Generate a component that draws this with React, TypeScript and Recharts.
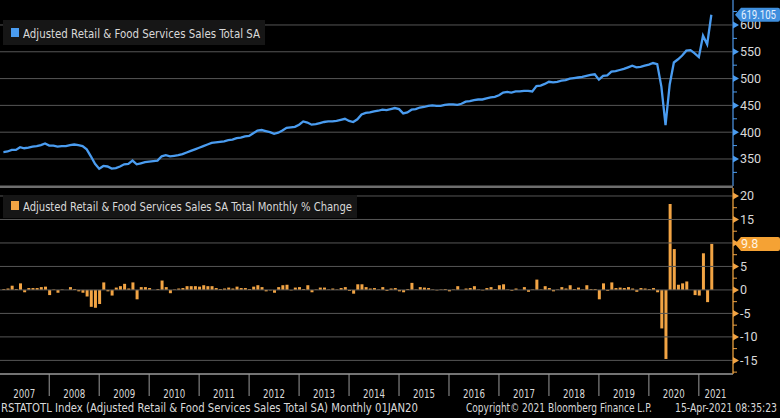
import React from "react";
import { Bar, BarChart, Line, LineChart, ReferenceLine, XAxis, YAxis } from "recharts";

// Adjusted Retail & Food Services Sales Total SA, monthly Jan 2007 - Mar 2021
const salesTotal = [
  363, 364, 367, 367, 372, 370, 371, 373, 374, 376, 379, 375, // 2007
  375, 373, 374, 374, 376, 377, 376, 374, 368, 355, 341, 332, // 2008
  337, 336, 332, 333, 336, 340, 341, 347, 340, 342, 344, 345, // 2009
  346, 347, 355, 357, 355, 356, 357, 359, 362, 365, 368, 371, // 2010
  374, 377, 380, 381, 382, 383, 385, 386, 389, 390, 392, 393, // 2011
  398, 403, 404, 402, 400, 397, 399, 403, 408, 409, 410, 414, // 2012
  420, 418, 414, 415, 417, 419, 420, 420, 421, 423, 425, 421, // 2013
  419, 424, 433, 436, 437, 439, 440, 442, 441, 443, 445, 443, // 2014
  435, 437, 442, 443, 446, 447, 449, 450, 449, 449, 451, 452, // 2015
  452, 451, 453, 457, 458, 460, 461, 461, 463, 465, 466, 469, // 2016
  474, 475, 474, 476, 476, 477, 477, 476, 486, 487, 490, 494, // 2017
  493, 494, 496, 497, 500, 501, 502, 503, 505, 507, 508, 498, // 2018
  505, 506, 513, 514, 516, 518, 521, 524, 521, 522, 524, 526, // 2019
  529, 527, 485, 413, 489, 530, 536, 543, 552, 553, 547, 540, // 2020
  580, 564, 619.105, // 2021
];

// Monthly % change
const monthlyChange = [
  0.2, 0.3, 0.9, 0.2, 1.4, -0.5, 0.4, 0.4, 0.4, 0.6, 0.7, -1.1,
  0.1, -0.6, 0.1, 0.0, 0.6, 0.2, -0.3, -0.6, -1.4, -3.6, -3.8, -3.0,
  1.6, -0.3, -1.2, 0.5, 0.8, 1.3, 0.3, 1.6, -2.0, 0.6, 0.6, 0.4,
  0.0, 0.2, 2.0, 0.6, -0.7, 0.1, 0.3, 0.4, 0.8, 0.8, 0.8, 0.7,
  1.0, 0.8, 0.8, 0.4, 0.2, 0.3, 0.5, 0.3, 0.7, 0.4, 0.4, 0.2,
  0.7, 1.0, 0.6, -0.3, -0.1, -0.6, 0.6, 1.0, 1.1, -0.1, 0.5, 0.6,
  0.2, 1.0, -0.5, 0.1, 0.5, 0.5, 0.1, 0.3, 0.1, 0.4, 0.6, -0.2,
  -0.8, 1.2, 1.2, 0.6, 0.3, 0.4, 0.1, 0.6, -0.2, 0.3, 0.4, -0.3,
  -0.5, 0.2, 1.5, 0.1, 0.6, 0.5, 0.4, 0.1, -0.1, 0.1, 0.2, -0.3,
  0.1, 0.8, 0.0, 0.3, 0.4, 0.8, 0.1, -0.1, 0.4, 0.6, 0.2, 1.0,
  1.2, 0.1, -0.2, 0.3, 0.0, 0.6, -0.4, 0.1, 2.2, 0.1, 0.8, 0.4,
  -0.3, 0.1, 0.6, 0.3, 1.0, 0.2, 0.5, 0.1, 1.0, 0.2, 0.2, -2.0,
  1.4, -0.2, 1.6, 0.4, 0.5, 0.4, 0.6, 0.3, -0.4, 0.4, 0.3, 0.2,
  0.4, -0.5, -8.2, -14.7, 18.3, 8.7, 1.1, 1.4, 1.8, 0.0, -1.1, -1.2,
  7.8, -2.6, 9.8,
];

const yearLabels = [2007, 2008, 2009, 2010, 2011, 2012, 2013, 2014, 2015, 2016, 2017, 2018, 2019, 2020, 2021];
const salesTicks = [325, 350, 375, 400, 425, 450, 475, 500, 525, 550, 575, 600, 625];
const salesGrid = [350, 400, 450, 500, 550, 600];
const changeTicks = [-17.5, -15, -12.5, -10, -7.5, -5, -2.5, 0, 2.5, 5, 7.5, 10, 12.5, 15, 17.5, 20];
const changeGrid = [-15, -10, -5, 0, 5, 10, 15, 20];

const rows = salesTotal.map((v, i) => ({ idx: i, sales: v, change: monthlyChange[i] }));
const lastSales = salesTotal[salesTotal.length - 1];
const lastChange = monthlyChange[monthlyChange.length - 1];

// x ticks: year boundaries (Dec of previous year) and label centres
const xTicks: number[] = [];
yearLabels.forEach((y, k) => {
  if (k > 0) xTicks.push(12 * k - 1);
  xTicks.push(y === 2021 ? 12 * k + 3 : 12 * k + 5);
});

const W = 780;
const AXIS_W = 47;
const X_DOMAIN: [number, number] = [-0.82, 175.2];
const BLUE = "#4a9cf0";
const ORANGE = "#f2a444";
const GRID = "#565656";
const TXT = "#d9d9d9";
const NARROW = "'Liberation Sans Narrow','DejaVu Sans Condensed',Roboto,sans-serif";

// right axis tick: minor dash, major triangle + label, or the last-value tag (drawn last, on top)
function RightTick(props: any) {
  const { x, y, payload, color, step, tagValue, tagBg, tagFg } = props;
  const v = payload.value;
  if (v === tagValue) {
    const ax = x + 2;
    const label = String(v);
    const fit = label.length > 4 ? { textLength: W - ax - 10, lengthAdjust: "spacingAndGlyphs" } : {};
    return (
      <g>
        <path
          d={`M${ax},${y}L${ax + 6},${y - 7}L${W - 2},${y - 7}Q${W},${y - 7} ${W},${y - 5}L${W},${y + 5}Q${W},${y + 7} ${W - 2},${y + 7}L${ax + 6},${y + 7}Z`}
          fill={tagBg}
        />
        <text x={ax + 6} y={y + 4.5} fill={tagFg} fontSize={12.5} fontFamily="Roboto, sans-serif" {...fit}>
          {label}
        </text>
      </g>
    );
  }
  if (v % step !== 0) {
    return <line x1={x} x2={x + 4} y1={y} y2={y} stroke={color} strokeWidth={1} />;
  }
  return (
    <g>
      <path d={`M${x},${y - 3.5}L${x + 6},${y}L${x},${y + 3.5}Z`} fill={color} />
      <text x={x + 7} y={y + 4.5} fill={TXT} fontSize={12.5} fontFamily="Roboto, sans-serif">
        {v}
      </text>
    </g>
  );
}

function YearTick(props: any) {
  const { x, y, payload } = props;
  const v = payload.value;
  if ((v + 1) % 12 === 0) {
    return <line x1={x} x2={x} y1={y} y2={y + 22} stroke="#9a9a9a" strokeWidth={1} />;
  }
  const year = yearLabels[Math.floor(v / 12)];
  return (
    <text x={x} y={y + 24} textAnchor="middle" fill={TXT} fontSize={11.5} fontFamily={NARROW} textLength={22} lengthAdjust="spacingAndGlyphs">
      {year}
    </text>
  );
}

export default function App() {
  return (
    <div style={{ position: "absolute", left: 0, top: 0, width: W, height: 418, background: "#000", overflow: "hidden" }}>
      <div style={{ position: "absolute", left: 0, top: 0 }}>
        <LineChart width={W} height={186} data={rows} margin={{ top: 0, right: 0, bottom: 0, left: 0 }}>
          <XAxis dataKey="idx" type="number" domain={X_DOMAIN} allowDataOverflow hide />
          <YAxis
            orientation="right"
            width={AXIS_W}
            domain={[299.6, 646.6]}
            allowDataOverflow
            ticks={[...salesTicks, lastSales]}
            interval={0}
            tickLine={false}
            tickSize={0}
            tickMargin={0}
            axisLine={{ stroke: "#3f78b8", strokeWidth: 1.5 }}
            tick={<RightTick color={BLUE} step={50} tagValue={lastSales} tagBg="#3f8fde" tagFg="#e6f1ff" />}
          />
          {salesGrid.map((g) => (
            <ReferenceLine key={g} y={g} stroke={GRID} strokeWidth={1} />
          ))}
          <Line
            type="linear"
            dataKey="sales"
            stroke={BLUE}
            strokeWidth={2.3}
            dot={false}
            activeDot={false}
            isAnimationActive={false}
          />
        </LineChart>
      </div>

      <div style={{ position: "absolute", left: 0, top: 188 }}>
        <BarChart width={W} height={230} data={rows} margin={{ top: 0, right: 0, bottom: 0, left: 0 }}>
          <XAxis
            dataKey="idx"
            type="number"
            domain={X_DOMAIN}
            allowDataOverflow
            ticks={xTicks}
            interval={0}
            height={44}
            tickLine={false}
            tickSize={0}
            tickMargin={0}
            axisLine={{ stroke: "#9a9a9a", strokeWidth: 1.5 }}
            tick={<YearTick />}
          />
          <YAxis
            orientation="right"
            width={AXIS_W}
            domain={[-17.9, 21.7]}
            allowDataOverflow
            ticks={[...changeTicks, lastChange]}
            interval={0}
            tickLine={false}
            tickSize={0}
            tickMargin={0}
            axisLine={{ stroke: "#c88a34", strokeWidth: 1.5 }}
            tick={<RightTick color={ORANGE} step={5} tagValue={lastChange} tagBg="#f5a234" tagFg="#fff4e2" />}
          />
          {changeGrid.map((g) => (
            <ReferenceLine key={g} y={g} stroke={GRID} strokeWidth={1} />
          ))}
          <Bar dataKey="change" fill={ORANGE} barSize={3} isAnimationActive={false} />
        </BarChart>
      </div>

      <svg width={W} height={418} style={{ position: "absolute", left: 0, top: 0, pointerEvents: "none" }}>
        {/* panel separator */}
        <rect x={0} y={185.5} width={W - AXIS_W} height={2.5} fill="#6e6e6e" />

        {/* legends */}
        <rect x={3} y={20} width={262} height={25} fill="#161616" />
        <rect x={11} y={28} width={8} height={9} fill={BLUE} />
        <text x={23} y={37.5} fill={TXT} fontSize={13} fontFamily={NARROW} textLength={237} lengthAdjust="spacingAndGlyphs">
          Adjusted Retail &amp; Food Services Sales Total SA
        </text>

        <rect x={3} y={195} width={354} height={23} fill="#161616" />
        <rect x={11} y={201} width={8} height={9} fill={ORANGE} />
        <text x={23} y={210.5} fill={TXT} fontSize={13} fontFamily={NARROW} textLength={329} lengthAdjust="spacingAndGlyphs">
          Adjusted Retail &amp; Food Services Sales SA Total Monthly % Change
        </text>

        {/* footer */}
        <text x={1} y={412} fill={TXT} fontSize={11.5} fontFamily={NARROW} textLength={417} lengthAdjust="spacingAndGlyphs">
          RSTATOTL Index (Adjusted Retail &amp; Food Services Sales Total SA)  Monthly 01JAN20
        </text>
        <text x={466} y={412} fill={TXT} fontSize={11.5} fontFamily={NARROW} textLength={186} lengthAdjust="spacingAndGlyphs">
          Copyright© 2021 Bloomberg Finance L.P.
        </text>
        <text x={675} y={412} fill={TXT} fontSize={11.5} fontFamily={NARROW} textLength={102} lengthAdjust="spacingAndGlyphs">
          15-Apr-2021 08:35:23
        </text>
      </svg>
    </div>
  );
}
